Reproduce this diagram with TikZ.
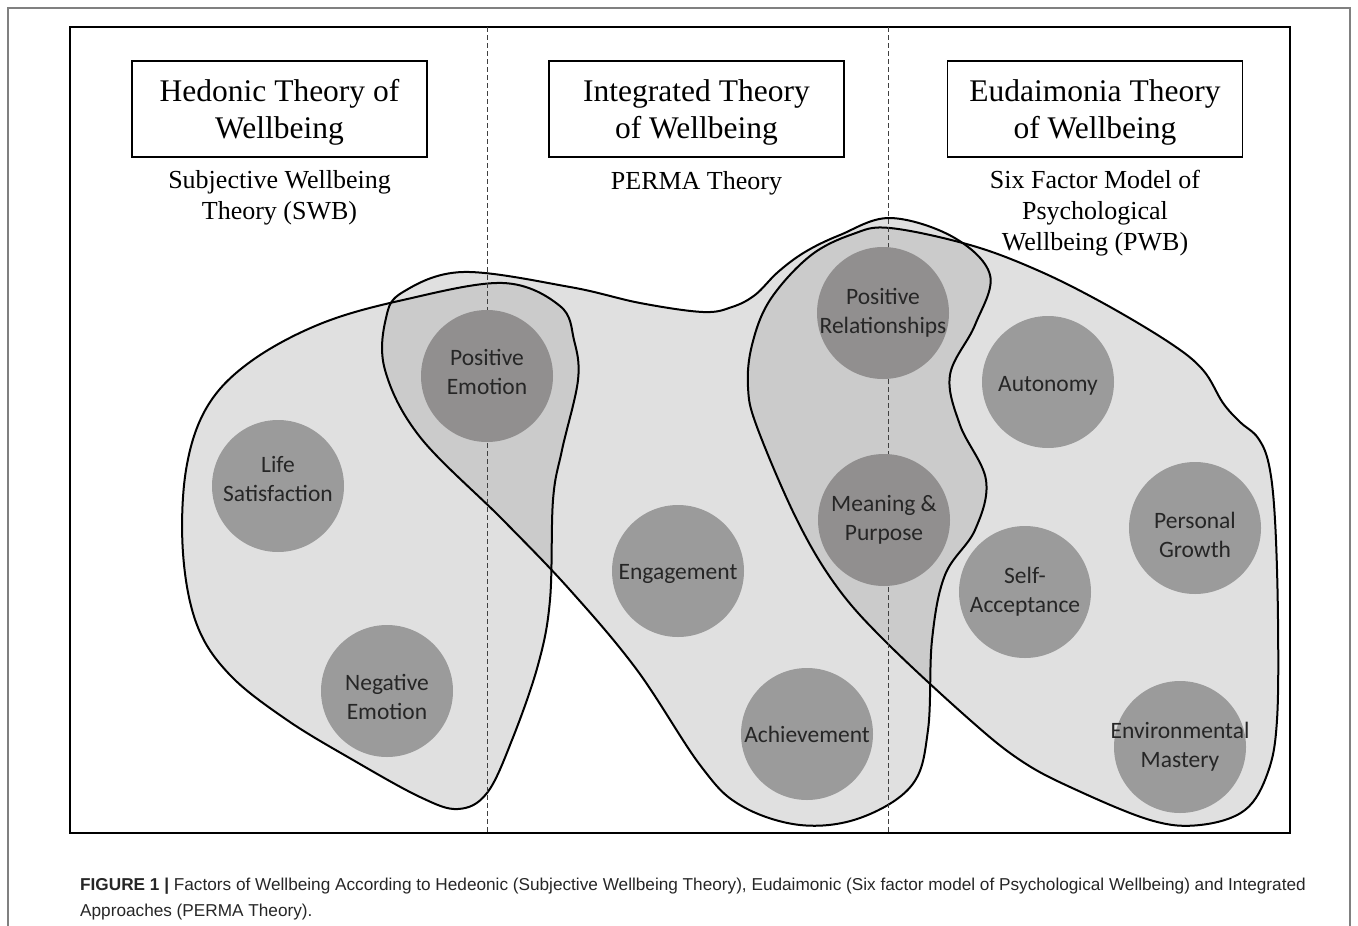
\documentclass[tikz,border=0pt]{standalone}
\usepackage{fontspec}
\setmainfont{Liberation Serif}
\newfontfamily\factorfont{Carlito}
\newfontfamily\capfont{Liberation Sans}
\usetikzlibrary{positioning}

\definecolor{factorgray}{RGB}{155,155,155}
\definecolor{overlapgray}{RGB}{145,143,143}
\definecolor{factorink}{RGB}{38,38,38}
\newcommand\titlestrut{\rule{0pt}{29.5pt}}

% outlines of the three theory areas
\newcommand\hedonicblob[1]{\path[#1] plot[smooth cycle, tension=.6] coordinates {(403,300) (503,283) (560,306) (574,340) (578,380) (562,450) (553,500) (550,600) (538,665) (512,740) (487,793) (458,809) (420,797) (353,760) (287,720) (230,675) (197,625) (183,553) (186,470) (207,407) (250,362) (320,324)};}
\newcommand\permablob[1]{\path[#1] plot[smooth cycle, tension=.6] coordinates {(403,292) (463,272) (570,287) (640,303) (703,312) (732,307) (755,295) (778,272) (805,252) (840,235) (890,218) (953,237) (990,275) (975,325) (950,375) (960,425) (986,480) (975,530) (945,575) (932,640) (928,730) (912,785) (860,818) (800,825) (740,805) (700,765) (637,670) (570,590) (503,520) (420,437) (385,370) (386,318)};}
\newcommand\pwbblob[1]{\path[#1] plot[smooth cycle, tension=.6] coordinates {(890,228) (970,245) (1037,270) (1103,303) (1170,343) (1203,370) (1223,403) (1240,422) (1258,438) (1269,465) (1275,520) (1278,620) (1277,720) (1268,772) (1245,810) (1200,825) (1150,820) (1070,787) (1020,760) (970,720) (887,643) (837,587) (797,520) (757,427) (748,387) (752,345) (770,300) (810,256) (853,234)};}

\begin{document}
\begin{tikzpicture}[x=1pt, y=-1pt,
  titlebox/.style={draw, line width=1.6pt, minimum width=295pt, minimum height=96pt, inner sep=0pt, align=center, font=\fontsize{31.5}{37}\selectfont},
  theory/.style={inner sep=0pt, align=center, font=\fontsize{26}{31}\selectfont},
  factor/.style={circle, fill=factorgray, minimum size=132pt, inner sep=0pt},
  shared/.style={factor, fill=overlapgray},
  factortext/.style={align=center, inner sep=0pt, text=factorink, font=\factorfont\fontsize{23.5}{29}\selectfont},
  blobfill/.style={fill=black!40, fill opacity=.3},
  blobline/.style={draw=black, line width=2pt},
  divider/.style={line width=.9pt, dash pattern=on 5pt off 3pt, black!75}]
\useasboundingbox (0,0) rectangle (1358,926);
\draw[black!50, line width=1.2pt] (8,926) -- (8,8) -- (1350,8) -- (1350,926);
\draw[line width=1.8pt] (70,27) rectangle (1290,833);

% areas
\hedonicblob{blobfill}
\permablob{blobfill}
\pwbblob{blobfill}
\hedonicblob{blobline}
\permablob{blobline}
\pwbblob{blobline}

\draw[divider] (487,27) -- (487,833);
\draw[divider] (888,27) -- (888,833);

% headings
\node[titlebox] (hedonic) at (279.5,109) {\titlestrut Hedonic Theory of\\Wellbeing};
\node[titlebox] (integrated) at (696.5,109) {\titlestrut Integrated Theory\\of Wellbeing};
\node[titlebox] (eudaimonia) at (1095,109) {\titlestrut Eudaimonia Theory\\of Wellbeing};
\node[theory, below=12pt of hedonic] (swb) {Subjective Wellbeing\\Theory (SWB)};
\node[theory, below=13pt of integrated] (perma) {PERMA Theory};
\node[theory, below=12pt of eudaimonia] (pwb) {Six Factor Model of\\Psychological\\Wellbeing (PWB)};

% factors
\node[factor, label={[factortext, yshift=7pt]center:Life\\Satisfaction}] (life) at (278,486) {};
\node[shared, label={[factortext, yshift=4pt]center:Positive\\Emotion}] (posemo) at (487,376) {};
\node[factor, label={[factortext, yshift=-6pt]center:Negative\\Emotion}] (negemo) at (387,691) {};
\node[factor, label={[factortext, yshift=-3pt]center:Engagement}] (engage) at (678,571) {};
\node[factor, label={[factortext]center:Achievement}] (achieve) at (807,734) {};
\node[shared, label={[factortext]center:Positive\\Relationships}] (posrel) at (883,313) {};
\node[shared, label={[factortext]center:Meaning \&\\Purpose}] (meaning) at (884,520) {};
\node[factor, label={[factortext, yshift=-4pt]center:Autonomy}] (autonomy) at (1048,382) {};
\node[factor, label={[factortext]center:Self-\\Acceptance}] (selfacc) at (1025,592) {};
\node[factor, label={[factortext, yshift=-7pt]center:Personal\\Growth}] (growth) at (1195,528) {};
\node[factor, label={[factortext]center:Environmental\\Mastery}] (envmast) at (1180,747) {};

% caption
\node[anchor=north west, inner sep=0pt, align=left, text=black!85, font=\capfont\fontsize{17.2}{26}\selectfont] (caption) at (80,878)
  {\textbf{FIGURE 1 |} Factors of Wellbeing According to Hedeonic (Subjective Wellbeing Theory), Eudaimonic (Six factor model of Psychological Wellbeing) and Integrated\\Approaches (PERMA Theory).};
\end{tikzpicture}
\end{document}
